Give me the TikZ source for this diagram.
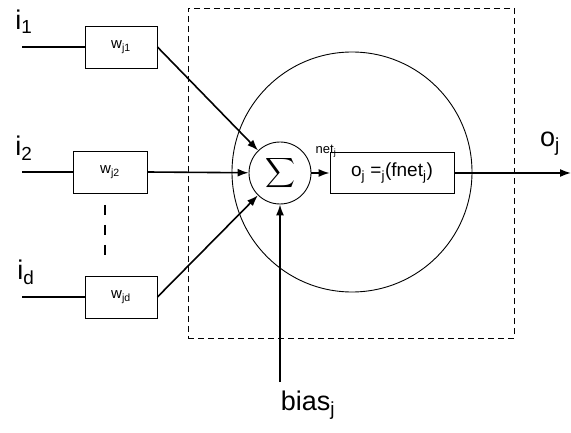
\documentclass[tikz,border=0pt]{standalone}
\usepackage{amsmath}
\usepackage{fontspec}
\setmainfont{Liberation Sans}
\usetikzlibrary{positioning, arrows.meta}

\begin{document}
\begin{tikzpicture}[x=1pt,y=-1pt,
    wbox/.style={draw,line width=0.9pt,minimum width=72pt,minimum height=42pt,
                 font=\fontsize{15}{15}\selectfont},
    link/.style={line width=1.6pt,-{Latex[length=11pt,width=8pt]}},
    wire/.style={line width=1.3pt},
    big/.style={font=\fontsize{27}{27}\selectfont}]
\useasboundingbox (0,0) rectangle (571,433);
% neuron j
\node[draw,dash pattern=on 6pt off 4pt,line width=0.9pt,
      minimum width=326pt,minimum height=330pt] (cell) at (351,173) {};
\node[draw,circle,line width=0.9pt,minimum size=240pt] (soma) at (352,172) {};
\node[draw,circle,line width=0.9pt,minimum size=62pt,inner sep=0pt] (sum) at (280,173)
      {\fontsize{22}{22}\selectfont$\displaystyle\sum$};
\node[draw,line width=0.9pt,minimum width=124pt,minimum height=41pt,
      font=\fontsize{19}{19}\selectfont] (act) at (392,173)
      {o\textsubscript{j} =\textsubscript{j}(fnet\textsubscript{j})};
\node[font=\fontsize{13}{13}\selectfont] (net) at (326,151) {net\textsubscript{j}};

% inputs and weights
\node[wbox] (w1) at (121,47) {w\textsubscript{j1}};
\node[wbox,minimum width=74pt] (w2) at (110,172) {w\textsubscript{j2}};
\node[wbox] (wd) at (121,297) {w\textsubscript{jd}};
\coordinate (in1) at (22,47);
\coordinate (in2) at (22,172);
\coordinate (ind) at (22,297);
\node[big] (i1) at (24,22) {i\textsubscript{1}};
\node[big] (i2) at (24,148) {i\textsubscript{2}};
\node[big] (id) at (26,272) {i\textsubscript{d}};
\draw[wire] (in1) -- (w1);
\draw[wire] (in2) -- (w2);
\draw[wire] (ind) -- (wd);
\draw[line width=1.3pt,dash pattern=on 10pt off 10pt] (105,205) -- (105,256);

% into the sum
\draw[link] (w1.east) -- (sum);
\draw[link] (w2.east) -- (sum);
\draw[link] (wd.east) -- (sum);
\coordinate (bias) at (280,382);
\draw[link] (bias) -- (sum);
\node[big] (biaslab) at (308,405) {bias\textsubscript{j}};
\draw[link] (sum) -- (act);

% output
\coordinate (out) at (571,173);
\draw[link] (act) -- (out);
\node[big] (oj) at (550,144) {o\textsubscript{j}};
\end{tikzpicture}
\end{document}
